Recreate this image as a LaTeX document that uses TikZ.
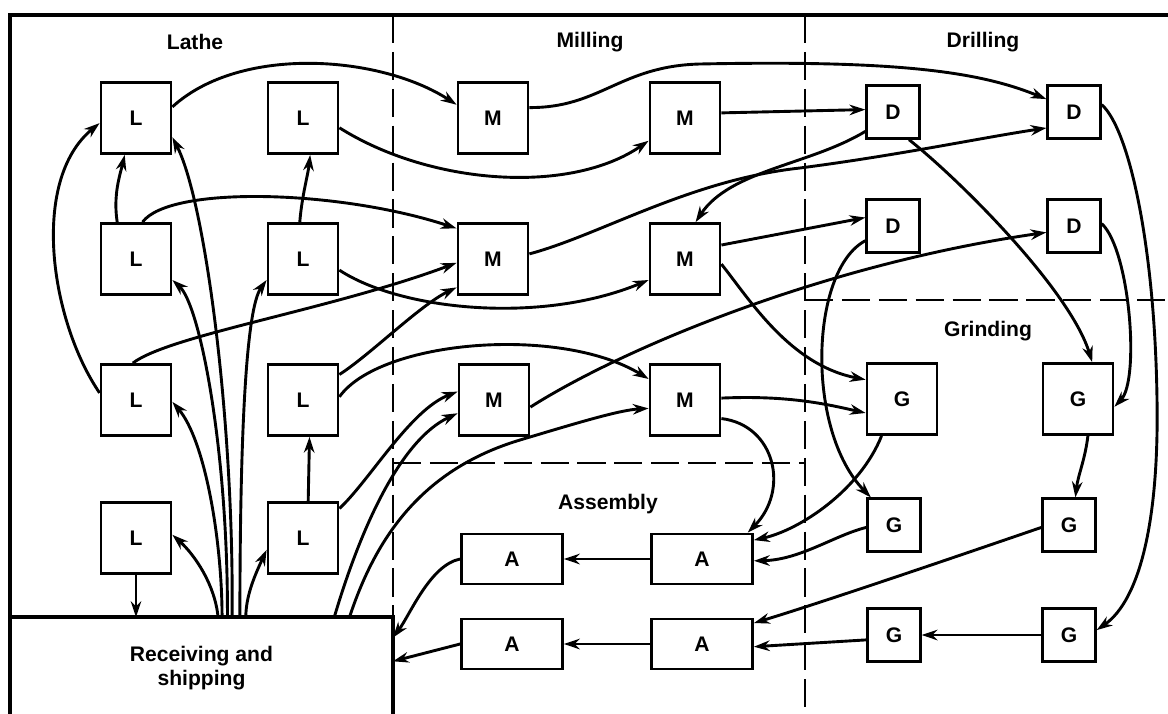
\documentclass[tikz,border=0pt]{standalone}
\usepackage{fontspec}
\setmainfont{Liberation Sans}
\usepackage{tikz}
\usetikzlibrary{arrows.meta}

\begin{document}
\begin{tikzpicture}[
    x=0.02cm, y=-0.02cm,
    every node/.style={font=\bfseries\fontsize{12}{14}\selectfont},
    mach/.style={draw, line width=1.6pt, fill=white, inner sep=0pt},
    sq/.style={mach, minimum width=1.40cm, minimum height=1.42cm},
    minisq/.style={mach, minimum size=1.05cm},
    bench/.style={mach, minimum width=2.02cm, minimum height=1.0cm},
    dept/.style={font=\bfseries\fontsize{12}{14}\selectfont},
    outline/.style={line width=1.8pt},
    deptline/.style={line width=1.4pt, dash pattern=on 16pt off 5pt},
    flow/.style={line width=1.65pt, -{Stealth[length=9pt,width=6pt]}}
  ]
  \useasboundingbox (0,0) rectangle (1168,713);
  \clip (0,0) rectangle (1168,713);

  \draw[outline] (10,713) -- (10,15) -- (1168,15);
  \draw[deptline] (393,15) -- (393,617);
  \draw[deptline] (805,15) -- (805,713);
  \draw[deptline] (393,463) -- (805,463);
  \draw[deptline] (805,300) -- (1168,300);

  \node[dept] (lathe) at (195,42) {Lathe};
  \node[dept] (milling) at (590,42) {Milling};
  \node[dept] (drilling) at (983,42) {Drilling};
  \node[dept] (grinding) at (988,331) {Grinding};
  \node[dept] (assembly) at (608,504) {Assembly};
  \node[mach, dept, line width=1.8pt, outer sep=0pt, anchor=north west, align=center,
        minimum width=7.66cm, minimum height=2.04cm] (recv) at (10,617) {Receiving and\\shipping};

  \node[sq] (L1) at (136,118) {L};
  \node[sq] (L2) at (303,118) {L};
  \node[sq] (L3) at (136,259) {L};
  \node[sq] (L4) at (303,259) {L};
  \node[sq] (L5) at (136,400) {L};
  \node[sq] (L6) at (303,400) {L};
  \node[sq] (L7) at (136,538) {L};
  \node[sq] (L8) at (303,538) {L};

  \node[sq] (M1) at (493,118) {M};
  \node[sq] (M2) at (685,118) {M};
  \node[sq] (M3) at (493,259) {M};
  \node[sq] (M4) at (685,259) {M};
  \node[sq] (M5) at (494,400) {M};
  \node[sq] (M6) at (685,400) {M};

  \node[minisq] (D1) at (893,112) {D};
  \node[minisq] (D2) at (1074,112) {D};
  \node[minisq] (D3) at (893,226) {D};
  \node[minisq] (D4) at (1074,226) {D};

  \node[sq] (G1) at (902,399) {G};
  \node[sq] (G2) at (1078,399) {G};
  \node[minisq] (G3) at (894,525) {G};
  \node[minisq] (G4) at (1069,525) {G};
  \node[minisq] (G5) at (894,635) {G};
  \node[minisq] (G6) at (1069,635) {G};

  \node[bench] (A1) at (512,559) {A};
  \node[bench] (A2) at (702,559) {A};
  \node[bench] (A3) at (512,644) {A};
  \node[bench] (A4) at (702,644) {A};

  \draw[flow] (L1.17) .. controls (240,45) and (380,55) .. (M1.160);
  \draw[flow] (L2.-15) .. controls (430,185) and (570,195) .. (M2.-148);
  \draw[flow] (L3.117) .. controls (113,195) and (120,175) .. (L1.-107);
  \draw[flow] (L4.95) .. controls (302,195) and (308,175) .. (L2.-79);
  \draw[flow] (L5.169) .. controls (50,320) and (30,180) .. (L1.-172);
  \draw[flow] (L3.80) .. controls (170,185) and (340,190) .. (M3.140);
  \draw[flow] (L4.-17) .. controls (400,310) and (540,325) .. (M4.-150);
  \draw[flow] (L5.95) .. controls (170,335) and (330,310) .. (M3.-174);
  \draw[flow] (L6.35) .. controls (370,355) and (420,305) .. (M3.-142);
  \draw[flow] (L6.5) .. controls (380,340) and (560,325) .. (M6.150);
  \draw[flow] (L8.82) -- (L6.-80);
  \draw[flow] (L8.39) .. controls (370,480) and (410,410) .. (M5.167);
  \draw[flow] (L7.south) -- (L7.south |- recv.north);

  \draw[flow] (recv.72) .. controls (215,585) and (195,555) .. (L7.5);
  \draw[flow] (recv.49) .. controls (246,595) and (255,575) .. (L8.-162);
  \draw[flow] (recv.68) .. controls (222,540) and (205,440) .. (L5.-3);
  \draw[flow] (recv.63) .. controls (228,450) and (200,305) .. (L3.-30);
  \draw[flow] (recv.59) .. controls (234,420) and (205,200) .. (L1.-28);
  \draw[flow] (recv.53) .. controls (240,450) and (245,310) .. (L4.-150);
  \draw[flow] (recv.21) .. controls (360,530) and (400,440) .. (M5.-160);
  \draw[flow] (recv.19) .. controls (375,540) and (420,470) .. (520,440)
                        .. controls (580,422) and (620,410) .. (M6.-167);

  \draw[flow] (M1.16) .. controls (600,108) and (620,66) .. (700,64)
                      .. controls (900,60) and (980,72) .. (D2.155);
  \draw[flow] (M2.8) -- (D1.175);
  \draw[flow] (D1.-145) .. controls (810,165) and (730,170) .. (M4.74);
  \draw[flow] (M3.8) .. controls (600,235) and (690,180) .. (800,168)
                     .. controls (900,155) and (980,138) .. (D2.-150);
  \draw[flow] (M4.21) -- (D3.163);
  \draw[flow] (M4.-8) .. controls (750,300) and (790,365) .. (G1.152);
  \draw[flow] (M5.-11) .. controls (620,350) and (820,265) .. (D4.-167);
  \draw[flow] (M6.3) .. controls (790,395) and (830,405) .. (G1.-159);
  \draw[flow] (M6.-27) .. controls (775,425) and (790,490) .. (A2.30);

  \draw[flow] (D1.-60) .. controls (960,180) and (1070,290) .. (G2.69);
  \draw[flow] (D2.15) .. controls (1130,130) and (1155,250) .. (1157,400)
                      .. controls (1159,520) and (1140,600) .. (G6.10);
  \draw[flow] (D3.-152) .. controls (810,270) and (805,430) .. (G3.130);
  \draw[flow] (D4.5) .. controls (1130,250) and (1140,380) .. (G2.-12);

  \draw[flow] (G2.-75) .. controls (1085,460) and (1078,475) .. (G4.77);
  \draw[flow] (G6.west) -- (G5.east);
  \draw[flow] (G1.-119) .. controls (860,490) and (800,530) .. (A2.20);
  \draw[flow] (G3.-175) .. controls (835,535) and (800,560) .. (A2.-2);
  \draw[flow] (G4.-175) .. controls (990,545) and (830,600) .. (A4.22);
  \draw[flow] (G5.-170) -- (A4.-3);

  \draw[flow] (A2.west) -- (A1.east);
  \draw[flow] (A4.west) -- (A3.east);
  \draw[flow] (A1.west) .. controls (430,565) and (410,615) .. (recv.9);
  \draw[flow] (A3.west) -- (recv.2);
\end{tikzpicture}
\end{document}
